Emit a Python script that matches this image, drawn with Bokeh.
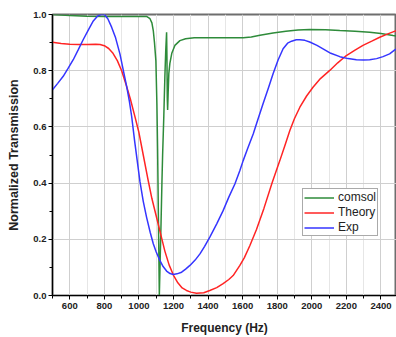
from bokeh.plotting import figure
from bokeh.models import Range1d, FixedTicker, PrintfTickFormatter, Legend, LegendItem
from bokeh.embed import file_html
from bokeh.resources import INLINE

# ---- data ----
comsol_f = [500, 550, 600, 700, 800, 900, 1000, 1044, 1064, 1075, 1083, 1090, 1098, 1104, 1108,
            1113, 1118, 1123, 1128, 1133, 1137, 1144, 1150, 1155, 1160, 1162, 1164, 1166, 1169,
            1173, 1179, 1190, 1208, 1237, 1270, 1320, 1400, 1500, 1603, 1650, 1700, 1776, 1850,
            1920, 1988, 2080, 2162, 2250, 2335, 2400, 2470, 2500]
comsol_t = [1.000, 0.998, 0.996, 0.994, 0.993, 0.993, 0.993, 0.993, 0.985, 0.970, 0.943, 0.900,
            0.836, 0.680, 0.520, 0.260, 0.000, 0.130, 0.260, 0.400, 0.500, 0.640, 0.777, 0.870,
            0.937, 0.850, 0.700, 0.660, 0.720, 0.790, 0.826, 0.862, 0.890, 0.907, 0.914, 0.917,
            0.917, 0.917, 0.917, 0.920, 0.926, 0.934, 0.940, 0.945, 0.947, 0.946, 0.943, 0.940,
            0.937, 0.932, 0.925, 0.923]

theory_f = [500, 550, 600, 650, 700, 750, 775, 800, 825, 850, 875, 900, 925, 950, 975, 1000,
            1025, 1050, 1075, 1100, 1125, 1150, 1175, 1200, 1225, 1250, 1275, 1300, 1333, 1375,
            1410, 1450, 1487, 1520, 1545, 1584, 1610, 1642, 1680, 1723, 1770, 1815, 1845, 1873,
            1900, 1931, 1970, 2007, 2050, 2104, 2150, 2200, 2250, 2296, 2350, 2393, 2440, 2500]
theory_t = [0.901, 0.897, 0.894, 0.893, 0.893, 0.894, 0.893, 0.889, 0.879, 0.862, 0.836, 0.800,
            0.752, 0.700, 0.641, 0.580, 0.500, 0.420, 0.345, 0.283, 0.220, 0.158, 0.108, 0.072,
            0.045, 0.027, 0.018, 0.012, 0.008, 0.010, 0.018, 0.028, 0.042, 0.057, 0.071, 0.107,
            0.135, 0.178, 0.235, 0.310, 0.400, 0.480, 0.535, 0.587, 0.630, 0.670, 0.710, 0.741,
            0.772, 0.801, 0.828, 0.854, 0.873, 0.890, 0.906, 0.919, 0.931, 0.945]

exp_f = [500, 530, 562, 590, 620, 650, 678, 710, 736, 760, 780, 800, 820, 842, 865, 890, 910,
         929, 945, 958, 975, 990, 1006, 1025, 1044, 1065, 1083, 1100, 1121, 1140, 1160, 1180,
         1198, 1220, 1247, 1270, 1295, 1325, 1353, 1380, 1410, 1450, 1487, 1520, 1555, 1584,
         1603, 1630, 1661, 1690, 1718, 1750, 1776, 1805, 1834, 1860, 1883, 1910, 1931, 1960,
         1988, 2030, 2065, 2110, 2162, 2210, 2258, 2300, 2335, 2375, 2412, 2450, 2480, 2500]
exp_t = [0.732, 0.755, 0.780, 0.808, 0.839, 0.876, 0.911, 0.948, 0.977, 0.994, 1.000, 1.000,
         0.985, 0.955, 0.917, 0.860, 0.800, 0.744, 0.690, 0.637, 0.550, 0.480, 0.405, 0.335,
         0.279, 0.225, 0.184, 0.155, 0.125, 0.103, 0.087, 0.078, 0.075, 0.077, 0.083, 0.094,
         0.107, 0.126, 0.148, 0.175, 0.208, 0.255, 0.302, 0.350, 0.397, 0.445, 0.480, 0.525,
         0.575, 0.630, 0.682, 0.740, 0.789, 0.838, 0.878, 0.898, 0.905, 0.910, 0.910, 0.908,
         0.902, 0.890, 0.878, 0.862, 0.850, 0.843, 0.839, 0.838, 0.839, 0.843, 0.850, 0.860,
         0.874, 0.880]

x_major = [600, 800, 1000, 1200, 1400, 1600, 1800, 2000, 2200, 2400]
x_minor = [500, 700, 900, 1100, 1300, 1500, 1700, 1900, 2100, 2300]
y_major = [0.0, 0.2, 0.4, 0.6, 0.8, 1.0]
y_minor = [0.1, 0.3, 0.5, 0.7, 0.9]

FONT = "Liberation Sans"

p = figure(width=396, height=337, output_backend="svg", toolbar_location=None,
           x_range=Range1d(500, 2490), y_range=Range1d(0, 1.0),
           min_border_left=52, min_border_right=0, min_border_top=14, min_border_bottom=42)
p.background_fill_color = "white"
p.border_fill_color = "white"
p.outline_line_color = "#6e6e6e"
p.outline_line_width = 2

for ax in (p.xaxis[0], p.yaxis[0]):
    ax.axis_line_color = "black"
    ax.axis_line_width = 1.2
    ax.major_tick_line_color = "black"
    ax.minor_tick_line_color = "black"
    ax.major_tick_in = 0
    ax.minor_tick_in = 0
    ax.major_label_text_font = FONT
    ax.major_label_text_font_style = "bold"
    ax.major_label_text_font_size = "9.5px"
    ax.major_label_text_color = "#222222"
    ax.axis_label_text_font = FONT
    ax.axis_label_text_font_style = "bold"
    ax.axis_label_text_color = "#222222"

p.xaxis.ticker = FixedTicker(ticks=x_major, minor_ticks=x_minor)
p.yaxis.ticker = FixedTicker(ticks=y_major, minor_ticks=y_minor)
p.yaxis.formatter = PrintfTickFormatter(format="%.1f")
p.xaxis.major_tick_out = 4
p.xaxis.minor_tick_out = 3
p.yaxis.major_tick_out = 4
p.yaxis.minor_tick_out = 3
p.xaxis.major_label_standoff = 3
p.yaxis.major_label_standoff = 2
p.xaxis.axis_label = "Frequency (Hz)"
p.yaxis.axis_label = "Normalized Transmission"
p.xaxis.axis_label_text_font_size = "12px"
p.yaxis.axis_label_text_font_size = "12.5px"
p.xaxis.axis_label_standoff = 9
p.yaxis.axis_label_standoff = 9

p.xgrid.ticker = FixedTicker(ticks=x_major, minor_ticks=x_minor)
p.ygrid.ticker = FixedTicker(ticks=y_major)
p.xgrid.grid_line_color = "#cfcfcf"
p.ygrid.grid_line_color = "#cfcfcf"
p.xgrid.minor_grid_line_color = "#e6e6e6"

r1 = p.line(comsol_f, comsol_t, line_color="#2e8b3a", line_width=1.5)
r2 = p.line(theory_f, theory_t, line_color="#ff2424", line_width=1.5)
r3 = p.line(exp_f, exp_t, line_color="#3535ff", line_width=1.5)

legend = Legend(items=[LegendItem(label="comsol", renderers=[r1]),
                       LegendItem(label="Theory", renderers=[r2]),
                       LegendItem(label="Exp", renderers=[r3])],
                location=(250, 59))
legend.label_text_font = FONT
legend.label_text_font_size = "12px"
legend.label_text_color = "#222222"
legend.label_height = 13
legend.glyph_height = 13
legend.glyph_width = 30
legend.label_standoff = 4
legend.spacing = 1
legend.padding = 1
legend.margin = 0
legend.border_line_color = "#555555"
legend.border_line_width = 1
legend.background_fill_color = "white"
legend.background_fill_alpha = 1.0
p.add_layout(legend)

open("out.html", "w").write(file_html(p, INLINE))
